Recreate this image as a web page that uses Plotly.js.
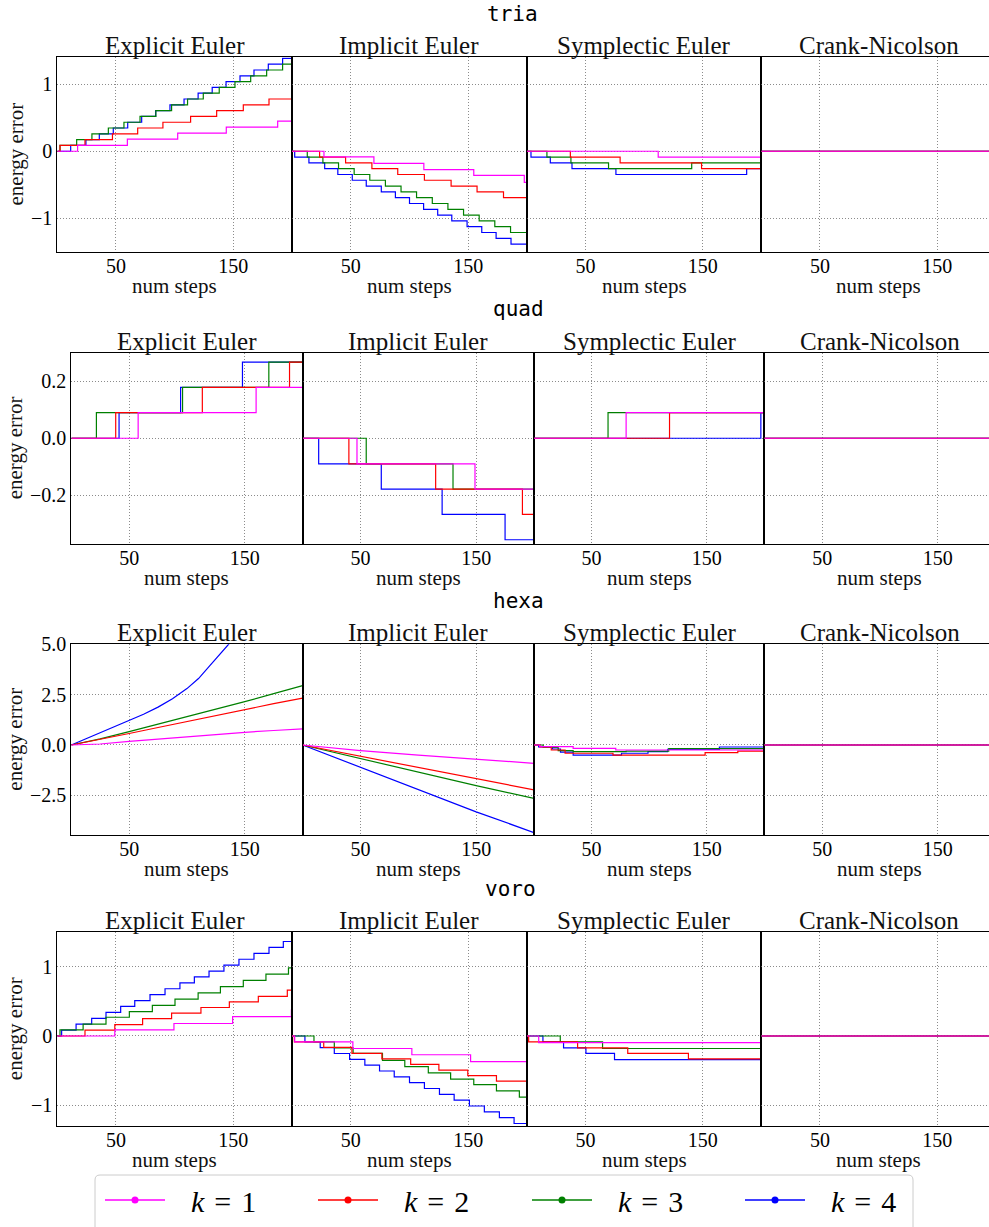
<!DOCTYPE html>
<html><head><meta charset="utf-8">
<script src="https://cdn.plot.ly/plotly-3.0.1.min.js"></script>
<style>html,body{margin:0;padding:0;background:#fff}#chart{width:989px;height:1227px}</style>
</head><body><div id="chart"></div>
<script>
// ---------------- data ----------------
const meshes = ["tria", "quad", "hexa", "voro"];
const methods = ["Explicit Euler", "Implicit Euler", "Symplectic Euler", "Crank-Nicolson"];
const kNames = ["<i>k</i>\u2004=\u20041", "<i>k</i>\u2004=\u20042", "<i>k</i>\u2004=\u20043", "<i>k</i>\u2004=\u20044"];
const kColors = ["#ff00ff", "#ff0000", "#008000", "#0000ff"];
const xTickVals = [50, 150];
const xTickText = ["50", "150"];
const xLabel = "num steps";
const yLabel = "energy error";

const triaYTicks = [-1, 0, 1];          const triaYText = ["\u22121", "0", "1"];
const quadYTicks = [-0.2, 0, 0.2];      const quadYText = ["\u22120.2", "0.0", "0.2"];
const hexaYTicks = [-2.5, 0, 2.5, 5];   const hexaYText = ["\u22122.5", "0.0", "2.5", "5.0"];
const voroYTicks = [-1, 0, 1];          const voroYText = ["\u22121", "0", "1"];

// each list: [k=1, k=2, k=3, k=4]
const tria_EE_x = [
  [0, 17.3, 59.7, 102.6, 144, 187.8, 200],
  [0, 2.3, 23.6, 47, 68.5, 90, 113.6, 135.8, 158.5, 180.4, 200],
  [0, 2.3, 16.5, 29.5, 43.5, 56.8, 70.5, 84, 97.4, 111, 124.4, 138, 151.4, 164.8, 178.4, 192, 200],
  [0, 11.4, 24.4, 35.8, 47.7, 60, 71.9, 83.8, 96, 108, 120, 132, 143.8, 155.7, 167.6, 179.8, 192, 200]
];
const tria_EE_y = [
  [0, 0.087, 0.18, 0.27, 0.36, 0.45, 0.45],
  [0, 0.087, 0.173, 0.26, 0.347, 0.433, 0.52, 0.607, 0.693, 0.78, 0.78],
  [0, 0.087, 0.173, 0.26, 0.347, 0.433, 0.52, 0.607, 0.693, 0.78, 0.867, 0.953, 1.04, 1.127, 1.213, 1.30, 1.30],
  [0, 0.087, 0.173, 0.26, 0.347, 0.433, 0.52, 0.607, 0.693, 0.78, 0.867, 0.953, 1.04, 1.127, 1.213, 1.30, 1.387, 1.387]
];
const tria_IE_x = [
  [0, 27.2, 69.7, 112.2, 154.7, 197.7, 200],
  [0, 23.5, 45.6, 68, 90, 112.7, 135.4, 157.5, 180, 200],
  [0, 13, 26.3, 39.6, 52.9, 66.2, 79.5, 92.8, 106, 119.4, 132.7, 146, 159.3, 172.6, 186, 200],
  [0, 2.3, 14.4, 27.8, 39, 51.3, 63.2, 76, 88, 100, 112, 124, 136, 149, 161.5, 173.7, 186.4, 200]
];
const tria_IE_y = [
  [0, -0.085, -0.18, -0.275, -0.36, -0.465, -0.465],
  [0, -0.087, -0.173, -0.26, -0.347, -0.433, -0.52, -0.607, -0.693, -0.693],
  [0, -0.087, -0.173, -0.26, -0.347, -0.433, -0.52, -0.607, -0.693, -0.78, -0.867, -0.953, -1.04, -1.127, -1.213, -1.213],
  [0, -0.087, -0.173, -0.26, -0.347, -0.433, -0.52, -0.607, -0.693, -0.78, -0.867, -0.953, -1.04, -1.127, -1.213, -1.30, -1.387, -1.387]
];
const tria_SE_x = [
  [0, 112, 200],
  [0, 37, 79.5, 149, 200],
  [0, 17, 37.5, 69.6, 140.6, 200],
  [0, 3.4, 19.9, 38.4, 75.9, 187.5, 200]
];
const tria_SE_y = [
  [0, -0.087, -0.087],
  [0, -0.087, -0.173, -0.26, -0.26],
  [0, -0.087, -0.173, -0.26, -0.173, -0.173],
  [0, -0.087, -0.173, -0.26, -0.347, -0.26, -0.26]
];

const quad_EE_x = [
  [0, 57.8, 159.8, 200],
  [0, 38.4, 113.3, 188.7, 200],
  [0, 21.7, 96.2, 170.8, 200],
  [0, 41.3, 94.5, 148, 200]
];
const quad_EE_y = [
  [0, 0.09, 0.179, 0.179],
  [0, 0.09, 0.179, 0.268, 0.268],
  [0, 0.09, 0.179, 0.268, 0.268],
  [0, 0.09, 0.179, 0.268, 0.268]
];
const quad_IE_x = [
  [0, 47, 149, 200],
  [0, 40, 115, 190, 200],
  [0, 55, 130, 200],
  [0, 13.9, 68, 120.6, 175, 200]
];
const quad_IE_y = [
  [0, -0.09, -0.179, -0.179],
  [0, -0.09, -0.179, -0.268, -0.268],
  [0, -0.09, -0.179, -0.179],
  [0, -0.09, -0.179, -0.268, -0.357, -0.357]
];
const quad_SE_x = [
  [0, 80, 200],
  [0, 117.7, 200],
  [0, 64.3, 200],
  [0, 197, 200]
];
const quad_SE_y = [
  [0, 0.09, 0.09],
  [0, 0.09, 0.09],
  [0, 0.09, 0.09],
  [0, 0.09, 0.09]
];

const hexa_EE_x = [
  [0, 25, 50, 75, 100, 125, 150, 175, 200],
  [0, 25, 50, 75, 100, 125, 150, 175, 200],
  [0, 25, 50, 75, 100, 125, 150, 175, 200],
  [0, 12.5, 25, 37.5, 50, 62.5, 75, 87.5, 100, 110, 120, 130, 136, 145]
];
const hexa_EE_y = [
  [0, 0.05, 0.18, 0.3, 0.41, 0.52, 0.63, 0.72, 0.8],
  [0, 0.27, 0.57, 0.87, 1.17, 1.47, 1.78, 2.05, 2.33],
  [0, 0.3, 0.66, 1.03, 1.4, 1.77, 2.15, 2.55, 2.95],
  [0, 0.3, 0.6, 0.9, 1.22, 1.53, 1.88, 2.3, 2.8, 3.3, 3.95, 4.6, 5.0, 5.8]
];
const hexa_IE_x = [
  [0, 50, 100, 150, 200],
  [0, 50, 100, 150, 200],
  [0, 50, 100, 150, 200],
  [0, 50, 100, 150, 200]
];
const hexa_IE_y = [
  [0, -0.28, -0.5, -0.70, -0.91],
  [0, -0.56, -1.12, -1.66, -2.23],
  [0, -0.68, -1.35, -2.02, -2.65],
  [0, -1.12, -2.22, -3.32, -4.35]
];
const hexa_SE_x = [
  [0, 5, 34, 71, 200],
  [0, 5, 15, 27, 68.6, 148.6, 177, 200],
  [0, 8, 21, 34, 80, 117, 200],
  [0, 4, 16, 23, 34, 76, 99, 116, 161, 200]
];
const hexa_SE_y = [
  [0, -0.08, -0.17, -0.25, -0.25],
  [0, -0.1, -0.25, -0.41, -0.5, -0.38, -0.3, -0.3],
  [0, -0.12, -0.28, -0.33, -0.3, -0.18, -0.18],
  [0, -0.1, -0.2, -0.35, -0.5, -0.41, -0.33, -0.22, -0.1, -0.1]
];

const voro_EE_x = [
  [0, 49, 99.4, 149.4, 199.5, 200],
  [0, 23.6, 49, 72.7, 97.4, 122.4, 146.6, 171.3, 196, 200],
  [0, 2.3, 22, 41.5, 61.4, 81, 100.3, 120, 139, 158.5, 177.8, 197, 200],
  [0, 3.7, 16, 29.3, 41.5, 54, 66, 79, 91.8, 104.5, 116.8, 129.3, 142, 154.8, 167.6, 180.4, 192.6, 200]
];
const voro_EE_y = [
  [0, 0.087, 0.18, 0.28, 0.375, 0.375],
  [0, 0.085, 0.165, 0.25, 0.33, 0.41, 0.49, 0.57, 0.66, 0.66],
  [0, 0.087, 0.17, 0.27, 0.35, 0.44, 0.53, 0.62, 0.71, 0.8, 0.89, 0.98, 0.98],
  [0, 0.085, 0.17, 0.255, 0.34, 0.425, 0.51, 0.595, 0.68, 0.765, 0.85, 0.935, 1.02, 1.105, 1.19, 1.275, 1.36, 1.36]
];
const voro_IE_x = [
  [0, 2.3, 51.8, 102, 152, 200],
  [0, 2, 27, 51, 76.5, 101, 125, 149.6, 174, 200],
  [0, 18.7, 36, 52, 77, 96, 116, 135, 154.7, 174, 193.5, 200],
  [0, 11, 24, 36, 49, 62, 74.5, 87, 100, 112.7, 125.5, 138, 151, 163.7, 176.5, 189, 200]
];
const voro_IE_y = [
  [0, -0.086, -0.18, -0.27, -0.37, -0.37],
  [0, -0.086, -0.165, -0.25, -0.33, -0.41, -0.49, -0.57, -0.65, -0.65],
  [0, -0.086, -0.17, -0.25, -0.35, -0.44, -0.53, -0.62, -0.70, -0.79, -0.88, -0.88],
  [0, -0.084, -0.168, -0.252, -0.336, -0.42, -0.504, -0.588, -0.672, -0.756, -0.84, -0.924, -1.008, -1.092, -1.176, -1.26, -1.26]
];
const voro_SE_x = [
  [0, 10, 200],
  [0, 1.4, 43.2, 86, 137.8, 200],
  [0, 28.4, 64.5, 200],
  [0, 13.6, 31.2, 50.3, 74.7, 200]
];
const voro_SE_y = [
  [0, -0.096, -0.096],
  [0, -0.086, -0.17, -0.25, -0.33, -0.33],
  [0, -0.086, -0.18, -0.18],
  [0, -0.086, -0.17, -0.25, -0.34, -0.34]
];

// Crank-Nicolson: energy error stays at zero for every k and mesh
const cn_x = [0, 200];
const cn_y = [0, 0];

// ---------------- assembly ----------------
const seriesX = {
  tria: [tria_EE_x, tria_IE_x, tria_SE_x],
  quad: [quad_EE_x, quad_IE_x, quad_SE_x],
  hexa: [hexa_EE_x, hexa_IE_x, hexa_SE_x],
  voro: [voro_EE_x, voro_IE_x, voro_SE_x]
};
const seriesY = {
  tria: [tria_EE_y, tria_IE_y, tria_SE_y],
  quad: [quad_EE_y, quad_IE_y, quad_SE_y],
  hexa: [hexa_EE_y, hexa_IE_y, hexa_SE_y],
  voro: [voro_EE_y, voro_IE_y, voro_SE_y]
};
const yTicks = {tria: [triaYTicks, triaYText], quad: [quadYTicks, quadYText], hexa: [hexaYTicks, hexaYText], voro: [voroYTicks, voroYText]};

const W = 989, H = 1227;
const SERIF = "'Liberation Serif', 'Times New Roman', serif";
const MONO = "'DejaVu Sans Mono', 'Liberation Mono', monospace";
const rowTop = [57.3, 352.7, 644.3, 932];
const rowBot = [251.7, 544, 835, 1126.3];
const yRanges = [[-1.5, 1.403], [-0.372, 0.301], [-4.47, 5.0], [-1.30, 1.497]];
const edgesA = [57.3, 292, 527, 761.3, 989];
const edgesB = [71.3, 302.6, 534, 764.3, 989];
const rowEdges = [edgesA, edgesB, edgesB, edgesA];
const rowTitleX = [512, 518.5, 518.5, 511];
const rowTitleY = [14, 309, 601, 889];
const GRID = {showgrid: true, gridcolor: "#6e6e6e", griddash: "1px,2px", gridwidth: 0.8};

const traces = [];
const layout = {
  width: W, height: H,
  margin: {l: 0, r: 0, t: 0, b: 0, autoexpand: false},
  paper_bgcolor: "#fff", plot_bgcolor: "#fff",
  showlegend: true,
  annotations: [],
  shapes: []
};

for (let r = 0; r < 4; r++) {
  const mesh = meshes[r];
  const e = rowEdges[r];
  const fullW = e[1] - e[0];
  for (let c = 0; c < 4; c++) {
    const n = r * 4 + c + 1;
    const xn = n === 1 ? "x" : "x" + n;
    const yn = n === 1 ? "y" : "y" + n;
    const xr = c === 3 ? 200 * (e[4] - e[3]) / fullW : 200;
    layout[n === 1 ? "xaxis" : "xaxis" + n] = Object.assign({
      domain: [e[c] / W, e[c + 1] / W], range: [0, xr], anchor: yn,
      tickmode: "array", tickvals: xTickVals, ticktext: xTickText,
      zeroline: false, showline: true, mirror: true, linecolor: "#000", linewidth: 1,
      ticks: "", ticklabelstandoff: -4, tickfont: {family: SERIF, size: 20, color: "#000"}
    }, GRID);
    layout[n === 1 ? "yaxis" : "yaxis" + n] = Object.assign({
      domain: [1 - rowBot[r] / H, 1 - rowTop[r] / H], range: yRanges[r], anchor: xn,
      tickmode: "array", tickvals: yTicks[mesh][0], ticktext: yTicks[mesh][1],
      showticklabels: c === 0,
      zeroline: false, showline: true, mirror: true, linecolor: "#000", linewidth: 1,
      ticks: "", tickfont: {family: SERIF, size: 20, color: "#000"}
    }, GRID);
    for (let k = 3; k >= 0; k--) {
      let xs, ys, shape = "hv";
      if (c === 3) { xs = cn_x; ys = cn_y; }
      else {
        xs = seriesX[mesh][c][k]; ys = seriesY[mesh][c][k];
        if (mesh === "hexa" && c < 2) shape = "linear";
      }
      traces.push({
        type: "scatter", mode: "lines", x: xs, y: ys, xaxis: xn, yaxis: yn,
        line: {color: kColors[k], width: 1.2, shape: shape},
        showlegend: false, hoverinfo: "skip", cliponaxis: true
      });
    }
    const cx = (e[c] + fullW / 2) / W;
    layout.annotations.push({
      text: methods[c], x: cx, y: 1 - rowTop[r] / H, xref: "paper", yref: "paper",
      xanchor: "center", yanchor: "bottom", yshift: -4, showarrow: false,
      font: {family: SERIF, size: 25, color: "#111"}
    });
    layout.annotations.push({
      text: xLabel, x: cx, y: 1 - rowBot[r] / H, xref: "paper", yref: "paper",
      xanchor: "center", yanchor: "middle", yshift: -34, showarrow: false,
      font: {family: SERIF, size: 21, color: "#111"}
    });
  }
  layout.annotations.push({
    text: yLabel, x: 15 / W, y: 1 - (rowTop[r] + rowBot[r]) / 2 / H, xref: "paper", yref: "paper",
    xanchor: "center", yanchor: "middle", textangle: -90, showarrow: false,
    font: {family: SERIF, size: 21, color: "#111"}
  });
  layout.annotations.push({
    text: mesh, x: rowTitleX[r] / W, y: 1 - rowTitleY[r] / H, xref: "paper", yref: "paper",
    xanchor: "center", yanchor: "middle", showarrow: false,
    font: {family: MONO, size: 21, color: "#000"}
  });
}

// legend: one entry per k, each in its own legend box placed along the bottom
const legendIds = ["legend", "legend2", "legend3", "legend4"];
const legendStartPx = [105, 318, 532, 745];
for (let k = 0; k < 4; k++) {
  traces.push({
    type: "scatter", mode: "lines+markers", x: [null], y: [null], xaxis: "x", yaxis: "y",
    name: "\u2002\u2009" + kNames[k], legend: legendIds[k], line: {color: kColors[k], width: 1.5},
    marker: {color: kColors[k], size: 7}, showlegend: true, hoverinfo: "skip"
  });
  layout[legendIds[k]] = {
    x: (legendStartPx[k] - 5) / W, xanchor: "left", y: 1 - 1200 / H, yanchor: "middle",
    bgcolor: "rgba(0,0,0,0)", borderwidth: 0,
    font: {family: SERIF, size: 30, color: "#000"}, itemwidth: 60
  };
}
// legend frame
const fx0 = 95 / W, fx1 = 913 / W, fyt = 1 - 1175 / H, fyb = -0.02, rx = 5 / W, ry = 5 / H;
layout.shapes.push({
  type: "path", xref: "paper", yref: "paper", layer: "below",
  path: `M ${fx0} ${fyb} L ${fx0} ${fyt - ry} Q ${fx0} ${fyt} ${fx0 + rx} ${fyt} L ${fx1 - rx} ${fyt} Q ${fx1} ${fyt} ${fx1} ${fyt - ry} L ${fx1} ${fyb}`,
  line: {color: "#cccccc", width: 1}
});

Plotly.newPlot("chart", traces, layout, {staticPlot: true});
</script>
</body></html>
